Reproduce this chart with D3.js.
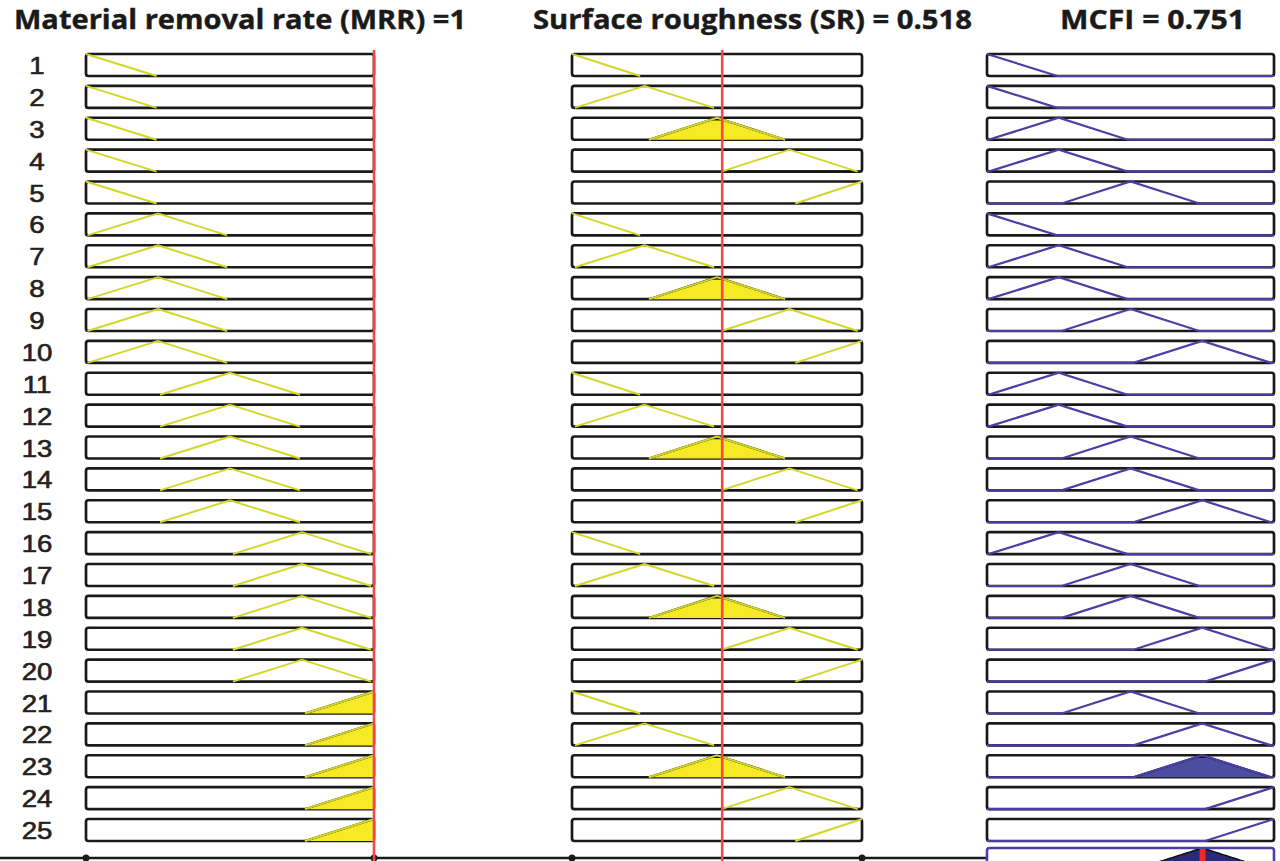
<!DOCTYPE html>
<html>
<head>
<meta charset="utf-8">
<script src="https://cdn.jsdelivr.net/npm/d3@7"></script>
<style>
  body { margin: 0; background: #fff; }
  svg { display: block; }
</style>
</head>
<body>
<div id="chart"></div>
<script>
// inputs / output shown in the viewer
const titles = ['Material removal rate (MRR) =1', 'Surface roughness (SR) = 0.518', 'MCFI = 0.751'];
const mrrValue = 1;
const srValue = 0.518;
const mcfiValue = 0.751;

// triangular membership functions [a, b, c]
const mrrMfs = [[-0.245, 0, 0.245], [0.005, 0.25, 0.49], [0.257, 0.5, 0.743], [0.51, 0.75, 0.99], [0.76, 1, 1.24]];
const srMfs = [[-0.235, 0, 0.235], [0.01, 0.25, 0.49], [0.265, 0.5, 0.735], [0.515, 0.75, 0.985], [0.77, 1, 1.23]];
const mcfiMfs = [[-0.245, 0, 0.245], [0.005, 0.25, 0.49], [0.26, 0.5, 0.74], [0.51, 0.75, 0.99], [0.76, 1, 1.24]];

// rule base (1-based MF index)
const ruleMrr = [1, 1, 1, 1, 1, 2, 2, 2, 2, 2, 3, 3, 3, 3, 3, 4, 4, 4, 4, 4, 5, 5, 5, 5, 5];
const ruleSr = [1, 2, 3, 4, 5, 1, 2, 3, 4, 5, 1, 2, 3, 4, 5, 1, 2, 3, 4, 5, 1, 2, 3, 4, 5];
const ruleMcfi = [1, 1, 2, 2, 3, 1, 2, 2, 3, 4, 2, 2, 3, 3, 4, 2, 3, 3, 4, 5, 3, 4, 4, 5, 5];

const W = 1280, H = 861;
const boxH = 22;

const trimf = (v, p) => Math.max(0, Math.min((v - p[0]) / (p[1] - p[0]), (p[2] - v) / (p[2] - p[1])));

const svg = d3.select('#chart')
    .append('svg')
    .attr('width', W)
    .attr('height', H)
    .style('font-family', 'Liberation Sans, Arial, sans-serif');

svg.append('rect').attr('width', W).attr('height', H).attr('fill', '#fff');

const rows = d3.range(1, ruleMrr.length + 1);
const rowY = d3.scaleLinear().domain([1, 25]).range([54, 819]);
const yIn = d3.scaleLinear().domain([0, 1]).range([boxH, 0]);

const xMrr = d3.scaleLinear().domain([0, 1]).range([86, 374]);
const xSr = d3.scaleLinear().domain([0, 1]).range([572, 862]);
const xOut = d3.scaleLinear().domain([0, 1]).range([987, 1274]);

// firing strength of each rule (min)
const firing = rows.map((r, i) => Math.min(trimf(mrrValue, mrrMfs[ruleMrr[i] - 1]), trimf(srValue, srMfs[ruleSr[i] - 1])));

// titles
const titleSpec = [[14, 452], [533, 439], [1060, 185]];
svg.selectAll('text.title')
    .data(titles)
    .join('text')
    .attr('class', 'title')
    .attr('x', (d, i) => titleSpec[i][0])
    .attr('y', 29)
    .attr('textLength', (d, i) => titleSpec[i][1])
    .attr('lengthAdjust', 'spacingAndGlyphs')
    .style('font-family', 'Open Sans, sans-serif')
    .style('font-weight', 700)
    .style('font-size', '26px')
    .attr('fill', '#1a1a1a')
    .attr('stroke', '#1a1a1a')
    .attr('stroke-width', 0.4)
    .text(d => d);

// rule numbers
svg.selectAll('text.num')
    .data(rows)
    .join('text')
    .attr('class', 'num')
    .attr('transform', d => `translate(37, ${rowY(d) + 20}) scale(1.2, 1)`)
    .attr('text-anchor', 'middle')
    .style('font-size', '23px')
    .attr('fill', '#222')
    .attr('stroke', '#222')
    .attr('stroke-width', 0.6)
    .text(d => d);

function mfPoints (p, full) {
    let xs = full ? [0, p[0], p[1], p[2], 1] : [Math.max(p[0], 0), p[1], Math.min(p[2], 1)];
    xs = xs.filter(v => v >= 0 && v <= 1).sort((a, b) => a - b);
    return xs.map(v => [v, trimf(v, p)]);
}

function clipPoints (p, h) {
    const lo = Math.max(p[0], 0), hi = Math.min(p[2], 1);
    const xs = [lo, p[0] + h * (p[1] - p[0]), p[2] - h * (p[2] - p[1]), hi]
        .map(v => Math.min(Math.max(v, lo), hi));
    return [[lo, 0]].concat(xs.map(v => [v, Math.min(trimf(v, p), h)])).concat([[hi, 0]]);
}

function panel (x, mfs, ruleIdx, degreeOf, isOut) {
    const line = d3.line().x(d => x(d[0])).y(d => yIn(d[1]));
    const g = svg.append('g');
    rows.forEach((r, i) => {
        const p = mfs[ruleIdx[i] - 1];
        const deg = degreeOf(i, p);
        const rg = g.append('g').attr('transform', `translate(0, ${rowY(r)})`);
        rg.append('rect')
            .attr('x', x(0)).attr('y', 0)
            .attr('width', x(1) - x(0)).attr('height', boxH)
            .attr('rx', 2.5)
            .attr('fill', '#fff')
            .attr('stroke', '#1a1a1a')
            .attr('stroke-width', 2.7);
        if (deg > 0) {
            rg.append('path')
                .attr('d', line(clipPoints(p, deg)))
                .attr('fill', isOut ? '#4c4ca0' : '#f6e925')
                .attr('stroke', '#151515')
                .attr('stroke-width', 2)
                .attr('stroke-linejoin', 'round');
        }
        rg.append('path')
            .attr('d', line(mfPoints(p, isOut)))
            .attr('fill', 'none')
            .attr('stroke', isOut ? '#4b3fa6' : '#d2d628')
            .attr('stroke-width', isOut ? 2.2 : 1.9);
    });
}

panel(xMrr, mrrMfs, ruleMrr, (i, p) => trimf(mrrValue, p), false);
panel(xSr, srMfs, ruleSr, (i, p) => trimf(srValue, p), false);
panel(xOut, mcfiMfs, ruleMcfi, (i) => firing[i], true);

// bottom axis strip
const axisY = 858;
svg.append('line')
    .attr('x1', 0).attr('x2', xOut(0) - 1)
    .attr('y1', axisY).attr('y2', axisY)
    .attr('stroke', '#1a1a1a').attr('stroke-width', 2.4);
svg.selectAll('circle.tick')
    .data([xMrr(0), xMrr(1), xSr(0), xSr(1)])
    .join('circle')
    .attr('class', 'tick')
    .attr('cx', d => d).attr('cy', axisY)
    .attr('r', 3.5)
    .attr('fill', '#1a1a1a');

// aggregated output (row 26, cut off by the frame)
const aggTop = 848;
const yAgg = d3.scaleLinear().domain([0, 1]).range([aggTop + boxH, aggTop]);
const aggXs = d3.range(0, 1.0001, 0.0025);
const agg = aggXs.map(v => [v, d3.max(rows, (r, i) => Math.min(trimf(v, mcfiMfs[ruleMcfi[i] - 1]), firing[i]))]);
const aggG = svg.append('g');
aggG.append('rect')
    .attr('x', xOut(0)).attr('y', aggTop)
    .attr('width', xOut(1) - xOut(0)).attr('height', boxH)
    .attr('rx', 2.5)
    .attr('fill', '#fff')
    .attr('stroke', '#4b3fa6')
    .attr('stroke-width', 2.6);
aggG.append('path')
    .attr('d', d3.area().x(d => xOut(d[0])).y0(yAgg(0)).y1(d => yAgg(d[1]))(agg))
    .attr('fill', '#2a2a78')
    .attr('stroke', '#111')
    .attr('stroke-width', 1.5);
aggG.append('line')
    .attr('x1', xOut(mcfiValue)).attr('x2', xOut(mcfiValue))
    .attr('y1', aggTop + 1).attr('y2', H)
    .attr('stroke', '#ee2a2a').attr('stroke-width', 6);

// red input markers
svg.selectAll('line.marker')
    .data([xMrr(mrrValue), xSr(srValue)])
    .join('line')
    .attr('class', 'marker')
    .attr('x1', d => d).attr('x2', d => d)
    .attr('y1', 50).attr('y2', H)
    .attr('stroke', '#f04848')
    .attr('stroke-width', 2.6);
</script>
</body>
</html>
